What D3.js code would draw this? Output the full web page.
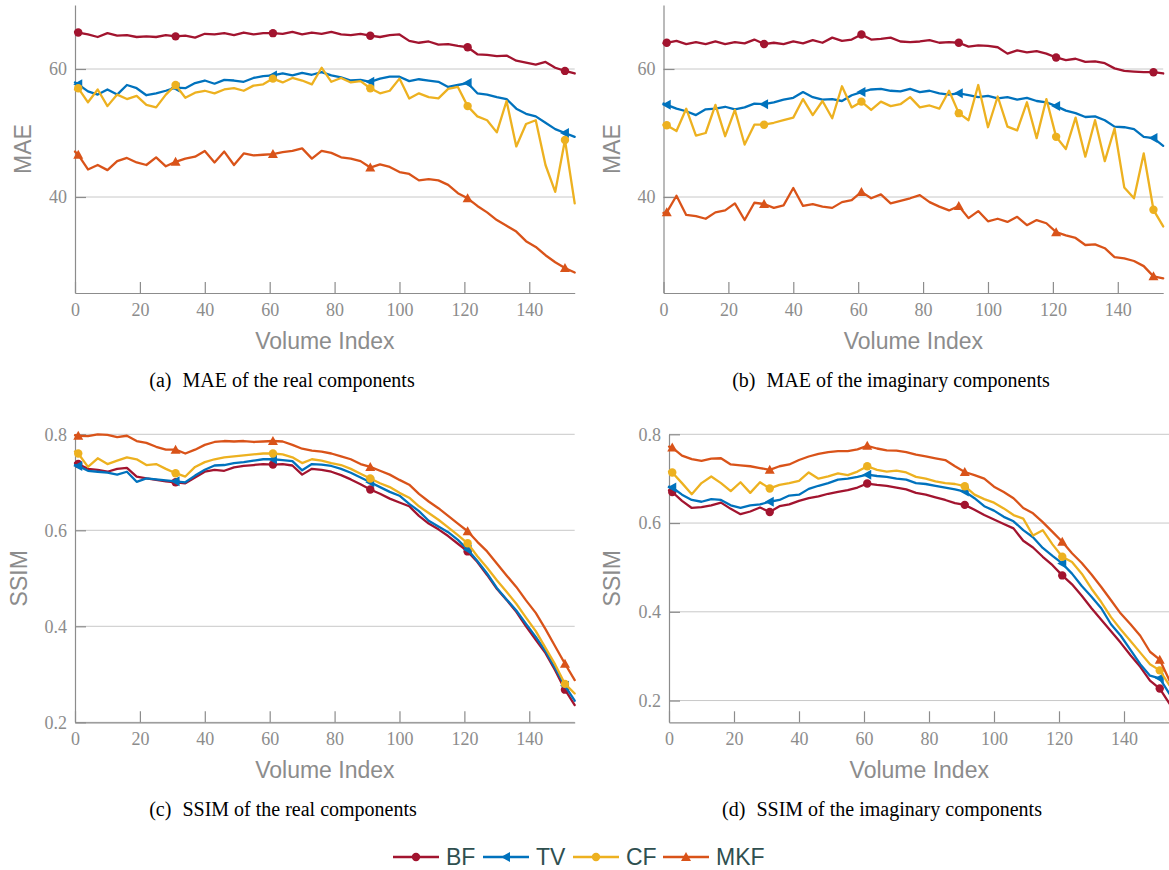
<!DOCTYPE html>
<html>
<head>
<meta charset="utf-8">
<script src="https://cdn.jsdelivr.net/npm/d3@7/dist/d3.min.js"></script>
<style>
    body { margin: 0; background: #ffffff; }
    .tickLabel { font-family: "Liberation Serif", "Times New Roman", serif; font-size: 18px; fill: #8c8c8c; }
    .axisTitle { font-family: "Liberation Sans", Arial, sans-serif; font-size: 23px; fill: #8c8c8c; }
    .caption { font-family: "Liberation Serif", "Times New Roman", serif; font-size: 20px; fill: #000000; }
    .legendLabel { font-family: "Liberation Sans", Arial, sans-serif; font-size: 23px; fill: #2f4f4f; }
</style>
</head>
<body>
<svg id="chart" width="1169" height="870"></svg>
<script>
const volumeIndex = [0, 1, 4, 7, 10, 13, 16, 19, 22, 25,
    28, 31, 34, 37, 40, 43, 46, 49, 52, 55,
    58, 61, 64, 67, 70, 73, 76, 79, 82, 85,
    88, 91, 94, 97, 100, 103, 106, 109, 112, 115,
    118, 121, 124, 127, 130, 133, 136, 139, 142, 145,
    148, 151, 154];
const markerIndex = [1, 31, 61, 91, 121, 151];
const xTicks = [0, 20, 40, 60, 80, 100, 120, 140];
const maeTicks = [40, 60];
const ssimTicks = [0.2, 0.4, 0.6, 0.8];
const methodNames = ["BF", "TV", "CF", "MKF"];

// (a) MAE, real components
const maeRealBF = [65.8, 65.7, 65.4, 65.0, 65.6, 65.2, 65.3, 65.0, 65.1, 65.0,
    65.3, 65.1, 65.2, 64.9, 65.5, 65.4, 65.6, 65.3, 65.7, 65.4,
    65.6, 65.6, 65.5, 65.8, 65.4, 65.7, 65.5, 65.8, 65.4, 65.3,
    65.5, 65.2, 65.0, 65.3, 65.4, 64.4, 64.1, 64.3, 63.8, 63.9,
    63.6, 63.4, 62.3, 62.2, 62.0, 62.1, 61.3, 61.0, 60.7, 61.1,
    60.2, 59.7, 59.3];
const maeRealTV = [57.9, 57.6, 56.5, 56.0, 56.8, 56.0, 57.5, 57.0, 55.9, 56.2,
    56.6, 57.1, 57.0, 57.8, 58.2, 57.7, 58.3, 58.2, 58.0, 58.6,
    58.9, 59.0, 59.3, 59.0, 59.4, 59.1, 59.5, 59.0, 58.7, 58.2,
    58.3, 58.0, 58.5, 58.8, 58.8, 58.1, 58.4, 58.2, 58.0, 57.2,
    57.5, 57.8, 56.2, 56.0, 55.6, 55.3, 53.8, 53.0, 52.6, 51.6,
    50.6, 50.0, 49.4];
const maeRealCF = [56.8, 57.0, 54.8, 56.8, 54.2, 56.0, 55.3, 55.8, 54.4, 54.0,
    56.0, 57.5, 55.5, 56.3, 56.6, 56.2, 56.8, 57.0, 56.6, 57.4,
    57.6, 58.5, 57.9, 58.6, 58.2, 57.6, 60.2, 58.0, 58.6, 57.9,
    58.1, 57.0, 56.2, 56.6, 58.5, 55.4, 56.2, 55.6, 55.4, 56.9,
    57.2, 54.2, 52.6, 52.0, 50.1, 55.0, 47.9, 51.4, 52.0, 45.0,
    40.8, 48.9, 39.0];
const maeRealMKF = [47.1, 46.6, 44.3, 45.0, 44.2, 45.6, 46.1, 45.4, 45.0, 46.2,
    44.8, 45.5, 46.0, 46.3, 47.2, 45.4, 47.1, 45.0, 46.8, 46.5,
    46.6, 46.7, 47.0, 47.2, 47.6, 46.0, 47.2, 46.9, 46.2, 46.0,
    45.6, 44.6, 45.1, 44.7, 43.9, 43.6, 42.6, 42.8, 42.6, 41.9,
    40.6, 39.8, 38.6, 37.6, 36.4, 35.5, 34.6, 33.1, 32.2, 30.9,
    29.8, 28.9, 28.2];

// (b) MAE, imaginary components
const maeImagBF = [64.0, 64.1, 64.4, 63.9, 64.2, 63.9, 64.3, 63.9, 64.2, 64.0,
    64.6, 63.9, 64.1, 63.9, 64.3, 64.0, 64.5, 64.1, 64.9, 64.4,
    64.6, 65.4, 64.6, 64.7, 64.9, 64.3, 64.2, 64.3, 64.5, 64.1,
    64.2, 64.1, 63.5, 63.7, 63.6, 63.4, 62.4, 62.9, 62.6, 62.8,
    62.4, 61.8, 61.4, 61.6, 61.1, 61.2, 60.9, 60.1, 59.7, 59.6,
    59.5, 59.5, 59.3];
const maeImagTV = [54.6, 54.4, 53.8, 53.4, 52.8, 53.7, 53.8, 54.1, 53.7, 54.0,
    54.6, 54.5, 54.8, 55.2, 55.5, 56.4, 55.6, 55.2, 55.3, 55.0,
    55.9, 56.4, 56.8, 56.9, 56.6, 56.5, 56.9, 56.4, 56.6, 56.2,
    56.0, 56.2, 55.9, 55.6, 55.8, 55.4, 55.6, 55.2, 55.5, 55.0,
    54.8, 54.2, 53.5, 53.1, 52.5, 52.6, 52.0, 51.0, 50.9, 50.6,
    49.4, 49.2, 48.0];
const maeImagCF = [51.3, 51.2, 50.3, 53.8, 49.6, 50.0, 54.4, 49.5, 53.6, 48.2,
    51.3, 51.3, 51.6, 52.0, 52.4, 55.3, 52.8, 55.0, 52.3, 57.3,
    54.0, 54.9, 53.6, 54.9, 54.2, 54.5, 55.6, 54.0, 54.3, 53.8,
    56.6, 53.1, 52.0, 57.5, 50.9, 55.7, 51.0, 50.4, 54.8, 49.2,
    55.3, 49.4, 47.5, 52.4, 46.3, 52.0, 45.6, 50.7, 41.5, 39.8,
    46.8, 38.0, 35.4];
const maeImagMKF = [37.5, 37.6, 40.2, 37.2, 37.0, 36.6, 37.6, 37.9, 39.0, 36.4,
    39.1, 38.9, 38.3, 38.7, 41.4, 38.6, 38.9, 38.5, 38.3, 39.2,
    39.5, 40.8, 39.8, 40.4, 39.0, 39.4, 39.8, 40.3, 39.2, 38.5,
    37.9, 38.6, 36.7, 37.8, 36.2, 36.6, 36.1, 36.9, 35.6, 36.4,
    35.9, 34.5, 34.0, 33.6, 32.5, 32.6, 32.0, 30.6, 30.4, 30.0,
    29.2, 27.6, 27.3];

// (c) SSIM, real components
const ssimRealBF = [0.740, 0.738, 0.728, 0.726, 0.722, 0.728, 0.730, 0.712, 0.708, 0.705,
    0.702, 0.700, 0.698, 0.710, 0.722, 0.726, 0.724, 0.731, 0.734, 0.736,
    0.738, 0.737, 0.738, 0.735, 0.716, 0.728, 0.726, 0.722, 0.715, 0.706,
    0.696, 0.685, 0.676, 0.666, 0.658, 0.650, 0.630, 0.614, 0.602, 0.588,
    0.572, 0.556, 0.534, 0.507, 0.478, 0.455, 0.430, 0.400, 0.372, 0.344,
    0.308, 0.268, 0.236];
const ssimRealTV = [0.736, 0.734, 0.724, 0.722, 0.720, 0.716, 0.722, 0.701, 0.708, 0.706,
    0.704, 0.702, 0.700, 0.714, 0.726, 0.735, 0.736, 0.740, 0.742, 0.745,
    0.748, 0.748, 0.746, 0.744, 0.725, 0.738, 0.737, 0.734, 0.728, 0.720,
    0.710, 0.700, 0.690, 0.680, 0.672, 0.655, 0.640, 0.620, 0.608, 0.596,
    0.580, 0.560, 0.536, 0.510, 0.480, 0.456, 0.433, 0.405, 0.378, 0.348,
    0.312, 0.276, 0.245];
const ssimRealCF = [0.764, 0.760, 0.732, 0.750, 0.738, 0.745, 0.752, 0.748, 0.736, 0.738,
    0.728, 0.719, 0.712, 0.732, 0.742, 0.748, 0.752, 0.754, 0.756, 0.758,
    0.760, 0.760, 0.758, 0.752, 0.740, 0.748, 0.745, 0.740, 0.736, 0.728,
    0.718, 0.708, 0.698, 0.690, 0.678, 0.668, 0.650, 0.636, 0.622, 0.606,
    0.590, 0.573, 0.546, 0.522, 0.496, 0.472, 0.447, 0.418, 0.390, 0.355,
    0.320, 0.280, 0.260];
const ssimRealMKF = [0.798, 0.797, 0.796, 0.800, 0.799, 0.794, 0.797, 0.786, 0.782, 0.774,
    0.768, 0.768, 0.760, 0.768, 0.778, 0.784, 0.786, 0.785, 0.786, 0.784,
    0.785, 0.786, 0.785, 0.778, 0.770, 0.766, 0.764, 0.760, 0.754, 0.748,
    0.738, 0.732, 0.724, 0.716, 0.705, 0.695, 0.676, 0.660, 0.646, 0.630,
    0.614, 0.598, 0.576, 0.556, 0.531, 0.506, 0.482, 0.454, 0.428, 0.394,
    0.358, 0.322, 0.288];

// (d) SSIM, imaginary components
const ssimImagBF = [0.674, 0.670, 0.650, 0.634, 0.636, 0.640, 0.646, 0.632, 0.620, 0.626,
    0.635, 0.625, 0.638, 0.642, 0.650, 0.656, 0.660, 0.666, 0.670, 0.674,
    0.680, 0.689, 0.686, 0.684, 0.680, 0.676, 0.668, 0.664, 0.658, 0.652,
    0.645, 0.641, 0.630, 0.618, 0.608, 0.598, 0.588, 0.560, 0.545, 0.524,
    0.505, 0.482, 0.462, 0.436, 0.408, 0.382, 0.356, 0.330, 0.302, 0.276,
    0.245, 0.227, 0.193];
const ssimImagTV = [0.682, 0.680, 0.664, 0.652, 0.648, 0.654, 0.652, 0.640, 0.634, 0.640,
    0.642, 0.648, 0.652, 0.662, 0.664, 0.677, 0.684, 0.690, 0.698, 0.700,
    0.704, 0.709, 0.706, 0.704, 0.700, 0.698, 0.690, 0.688, 0.684, 0.680,
    0.676, 0.671, 0.656, 0.638, 0.628, 0.614, 0.604, 0.584, 0.568, 0.544,
    0.526, 0.509, 0.486, 0.458, 0.434, 0.408, 0.372, 0.346, 0.314, 0.282,
    0.256, 0.250, 0.215];
const ssimImagCF = [0.716, 0.714, 0.690, 0.665, 0.690, 0.705, 0.690, 0.672, 0.692, 0.668,
    0.692, 0.678, 0.686, 0.690, 0.695, 0.714, 0.700, 0.705, 0.712, 0.708,
    0.716, 0.728, 0.720, 0.716, 0.718, 0.714, 0.704, 0.700, 0.694, 0.690,
    0.688, 0.683, 0.664, 0.654, 0.646, 0.633, 0.618, 0.610, 0.572, 0.584,
    0.552, 0.524, 0.512, 0.486, 0.452, 0.422, 0.388, 0.360, 0.334, 0.308,
    0.282, 0.268, 0.234];
const ssimImagMKF = [0.772, 0.770, 0.752, 0.744, 0.740, 0.745, 0.746, 0.732, 0.730, 0.728,
    0.724, 0.720, 0.728, 0.732, 0.742, 0.750, 0.756, 0.760, 0.762, 0.762,
    0.766, 0.774, 0.768, 0.764, 0.763, 0.760, 0.754, 0.750, 0.746, 0.742,
    0.728, 0.715, 0.708, 0.700, 0.682, 0.670, 0.656, 0.634, 0.622, 0.602,
    0.580, 0.558, 0.532, 0.510, 0.484, 0.456, 0.426, 0.396, 0.372, 0.346,
    0.310, 0.292, 0.245];

/**
 * styles
 */
const METHOD_STYLE = {
    BF: {color: "#a2142f", marker: "circle"},
    TV: {color: "#0072bd", marker: "triangleLeft"},
    CF: {color: "#edb120", marker: "circle"},
    MKF: {color: "#d95319", marker: "triangleUp"}
};
const AXIS_COLOR = "#8c8c8c";
const GRID_COLOR = "#c8c8c8";
const TICK_LEN = 11;

const PANELS = [
    {box: {left: 75, right: 574.7, top: 5, bottom: 293}, yDomain: [25, 70], yTicks: maeTicks, yFormat: d3.format("d"),
        yTitle: "MAE", yTitleX: 31, caption: ["(a)", "MAE of the real components"], captionX: 282,
        series: [maeRealBF, maeRealTV, maeRealCF, maeRealMKF]},
    {box: {left: 663.5, right: 1163.2, top: 5, bottom: 293}, yDomain: [25, 70], yTicks: maeTicks, yFormat: d3.format("d"),
        yTitle: "MAE", yTitleX: 620, caption: ["(b)", "MAE of the imaginary components"], captionX: 891,
        series: [maeImagBF, maeImagTV, maeImagCF, maeImagMKF]},
    {box: {left: 75, right: 574.7, top: 434.3, bottom: 722.3}, yDomain: [0.2, 0.8], yTicks: ssimTicks, yFormat: d3.format(".1f"),
        yTitle: "SSIM", yTitleX: 27, caption: ["(c)", "SSIM of the real components"], captionX: 283,
        series: [ssimRealBF, ssimRealTV, ssimRealCF, ssimRealMKF]},
    {box: {left: 669, right: 1169.5, top: 434.3, bottom: 722.3}, yDomain: [0.151, 0.8], yTicks: ssimTicks, yFormat: d3.format(".1f"),
        yTitle: "SSIM", yTitleX: 620, caption: ["(d)", "SSIM of the imaginary components"], captionX: 882,
        series: [ssimImagBF, ssimImagTV, ssimImagCF, ssimImagMKF]}
];

const svg = d3.select("#chart");
svg.append("rect").attr("width", 1169).attr("height", 870).attr("fill", "#ffffff");

function drawGrid(g, panel, y) {
    g.append("g").selectAll("line").data(panel.yTicks).join("line")
        .attr("x1", panel.box.left).attr("x2", panel.box.right)
        .attr("y1", d => y(d)).attr("y2", d => y(d))
        .attr("stroke", GRID_COLOR).attr("stroke-width", 1);
}

function styleAxis(axisGroup) {
    axisGroup.select(".domain").attr("stroke", AXIS_COLOR).attr("stroke-width", 1.2);
    axisGroup.selectAll(".tick line").attr("stroke", AXIS_COLOR).attr("stroke-width", 1.2);
    axisGroup.selectAll(".tick text").attr("class", "tickLabel").attr("fill", null)
        .attr("font-family", null).attr("font-size", null);
}

function drawAxes(g, panel, x, y) {
    let bottom = g.append("g").attr("transform", `translate(0,${panel.box.bottom})`)
        .call(d3.axisBottom(x).tickValues(xTicks).tickSizeInner(-TICK_LEN).tickSizeOuter(0).tickPadding(10));
    styleAxis(bottom);

    let left = g.append("g").attr("transform", `translate(${panel.box.left},0)`)
        .call(d3.axisLeft(y).tickValues(panel.yTicks).tickFormat(panel.yFormat)
            .tickSizeInner(-TICK_LEN).tickSizeOuter(0).tickPadding(8));
    styleAxis(left);
}

function markerPath(kind, cx, cy) {
    if (kind === "triangleUp") {
        return `M ${cx},${cy - 5} L ${cx + 5},${cy + 4} L ${cx - 5},${cy + 4} Z`;
    }
    if (kind === "triangleLeft") {
        return `M ${cx - 5},${cy} L ${cx + 4},${cy - 5} L ${cx + 4},${cy + 5} Z`;
    }
    return null;
}

function drawMarker(g, kind, color, cx, cy) {
    if (kind === "circle") {
        return g.append("circle").attr("cx", cx).attr("cy", cy).attr("r", 4.2).attr("fill", color);
    }
    return g.append("path").attr("d", markerPath(kind, cx, cy)).attr("fill", color);
}

function drawSeries(g, values, style, x, y) {
    let points = volumeIndex.map((v, i) => ({idx: v, value: values[i]}));
    let line = d3.line().x(d => x(d.idx)).y(d => y(d.value));

    g.append("path").datum(points).attr("d", line)
        .attr("fill", "none").attr("stroke", style.color).attr("stroke-width", 2.3)
        .attr("stroke-linejoin", "round").attr("stroke-linecap", "round");

    points.filter(d => markerIndex.includes(d.idx))
        .forEach(d => drawMarker(g, style.marker, style.color, x(d.idx), y(d.value)));
}

function drawTitles(g, panel) {
    let midX = (panel.box.left + panel.box.right) / 2;
    let midY = (panel.box.top + panel.box.bottom) / 2;

    g.append("text").attr("class", "axisTitle").attr("text-anchor", "middle")
        .attr("x", midX).attr("y", panel.box.bottom + 56).text("Volume Index");

    g.append("text").attr("class", "axisTitle").attr("text-anchor", "middle")
        .attr("transform", `translate(${panel.yTitleX},${midY}) rotate(-90)`).text(panel.yTitle);

    // caption below the panel, "(a)" set apart from the text
    let caption = g.append("text").attr("class", "caption").attr("text-anchor", "middle")
        .attr("x", panel.captionX).attr("y", panel.box.bottom + 94);
    caption.append("tspan").text(panel.caption[0]);
    caption.append("tspan").attr("dx", 11).text(panel.caption[1]);
}

function drawPanel(panel) {
    let x = d3.scaleLinear().domain([0, 154]).range([panel.box.left, panel.box.right]);
    let y = d3.scaleLinear().domain(panel.yDomain).range([panel.box.bottom, panel.box.top]);
    let g = svg.append("g");

    drawGrid(g, panel, y);
    drawAxes(g, panel, x, y);

    let plot = g.append("g");
    methodNames.forEach((name, i) => drawSeries(plot, panel.series[i], METHOD_STYLE[name], x, y));

    drawTitles(g, panel);
}

function drawLegend() {
    let legendY = 857;
    let entryX = [393, 483, 573, 663];
    let g = svg.append("g");
    methodNames.forEach((name, i) => {
        let style = METHOD_STYLE[name];
        let x0 = entryX[i];
        g.append("line").attr("x1", x0).attr("x2", x0 + 46).attr("y1", legendY).attr("y2", legendY)
            .attr("stroke", style.color).attr("stroke-width", 2.3);
        drawMarker(g, style.marker, style.color, x0 + 23, legendY);
        g.append("text").attr("class", "legendLabel").attr("x", x0 + 53).attr("y", legendY + 8).text(name);
    });
}

PANELS.forEach(drawPanel);
drawLegend();
</script>
</body>
</html>
